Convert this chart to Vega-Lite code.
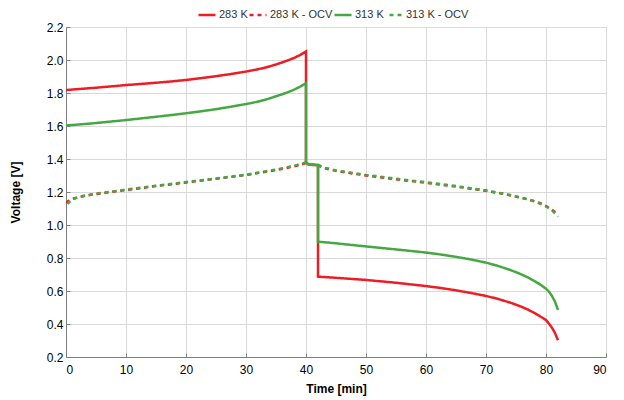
{
  "$schema": "https://vega.github.io/schema/vega-lite/v6.json",
  "width": 540,
  "height": 330,
  "autosize": {"type": "none"},
  "padding": {"left": 66, "top": 27, "right": 18, "bottom": 43},
  "background": "white",
  "config": {
    "font": "Liberation Sans",
    "view": {"stroke": "#bfbfbf", "strokeWidth": 1},
    "axis": {
      "labelFont": "Liberation Sans",
      "labelFontSize": 12,
      "labelColor": "#000000",
      "titleFont": "Liberation Sans",
      "titleFontSize": 12,
      "titleFontWeight": "bold",
      "titleColor": "#000000",
      "gridColor": "#d9d9d9",
      "gridWidth": 1,
      "domainColor": "#7f7f7f",
      "domainWidth": 1,
      "tickColor": "#7f7f7f",
      "tickSize": -4
    },
    "legend": {
      "symbolType": "stroke",
      "symbolSize": 289,
      "symbolStrokeWidth": 2.5,
      "labelFont": "Liberation Sans",
      "labelFontSize": 11,
      "labelColor": "#333333",
      "labelOffset": 2,
      "columnPadding": -4
    }
  },
  "data": {
    "values": [
      {"s": "283 K", "i": 0, "t": 0, "v": 1.818},
      {"s": "283 K", "i": 1, "t": 2.5, "v": 1.825},
      {"s": "283 K", "i": 2, "t": 5, "v": 1.832},
      {"s": "283 K", "i": 3, "t": 7.5, "v": 1.84},
      {"s": "283 K", "i": 4, "t": 10, "v": 1.848},
      {"s": "283 K", "i": 5, "t": 12.5, "v": 1.855},
      {"s": "283 K", "i": 6, "t": 15, "v": 1.862},
      {"s": "283 K", "i": 7, "t": 17.5, "v": 1.87},
      {"s": "283 K", "i": 8, "t": 20, "v": 1.879},
      {"s": "283 K", "i": 9, "t": 22.5, "v": 1.89},
      {"s": "283 K", "i": 10, "t": 25, "v": 1.902},
      {"s": "283 K", "i": 11, "t": 27.5, "v": 1.915},
      {"s": "283 K", "i": 12, "t": 30, "v": 1.93},
      {"s": "283 K", "i": 13, "t": 31, "v": 1.937},
      {"s": "283 K", "i": 14, "t": 32, "v": 1.944},
      {"s": "283 K", "i": 15, "t": 33, "v": 1.952},
      {"s": "283 K", "i": 16, "t": 34, "v": 1.962},
      {"s": "283 K", "i": 17, "t": 35, "v": 1.973},
      {"s": "283 K", "i": 18, "t": 36, "v": 1.985},
      {"s": "283 K", "i": 19, "t": 37, "v": 1.998},
      {"s": "283 K", "i": 20, "t": 38, "v": 2.012},
      {"s": "283 K", "i": 21, "t": 39, "v": 2.03},
      {"s": "283 K", "i": 22, "t": 40, "v": 2.052},
      {"s": "283 K", "i": 23, "t": 40, "v": 1.378},
      {"s": "283 K", "i": 24, "t": 40.4, "v": 1.367},
      {"s": "283 K", "i": 25, "t": 42, "v": 1.362},
      {"s": "283 K", "i": 26, "t": 42, "v": 0.687},
      {"s": "283 K", "i": 27, "t": 45, "v": 0.68},
      {"s": "283 K", "i": 28, "t": 50, "v": 0.667},
      {"s": "283 K", "i": 29, "t": 55, "v": 0.65},
      {"s": "283 K", "i": 30, "t": 60, "v": 0.63},
      {"s": "283 K", "i": 31, "t": 62.5, "v": 0.618},
      {"s": "283 K", "i": 32, "t": 65, "v": 0.604},
      {"s": "283 K", "i": 33, "t": 67.5, "v": 0.588},
      {"s": "283 K", "i": 34, "t": 70, "v": 0.57},
      {"s": "283 K", "i": 35, "t": 72, "v": 0.552},
      {"s": "283 K", "i": 36, "t": 74, "v": 0.53},
      {"s": "283 K", "i": 37, "t": 75, "v": 0.517},
      {"s": "283 K", "i": 38, "t": 76, "v": 0.503},
      {"s": "283 K", "i": 39, "t": 77, "v": 0.487},
      {"s": "283 K", "i": 40, "t": 78, "v": 0.468},
      {"s": "283 K", "i": 41, "t": 79, "v": 0.447},
      {"s": "283 K", "i": 42, "t": 80, "v": 0.424},
      {"s": "283 K", "i": 43, "t": 80.5, "v": 0.402},
      {"s": "283 K", "i": 44, "t": 81, "v": 0.377},
      {"s": "283 K", "i": 45, "t": 81.5, "v": 0.345},
      {"s": "283 K", "i": 46, "t": 82, "v": 0.302},

      {"s": "283 K - OCV", "i": 0, "t": 0, "v": 1.135},
      {"s": "283 K - OCV", "i": 1, "t": 0.5, "v": 1.148},
      {"s": "283 K - OCV", "i": 2, "t": 1, "v": 1.158},
      {"s": "283 K - OCV", "i": 3, "t": 2, "v": 1.168},
      {"s": "283 K - OCV", "i": 4, "t": 3, "v": 1.176},
      {"s": "283 K - OCV", "i": 5, "t": 5, "v": 1.188},
      {"s": "283 K - OCV", "i": 6, "t": 7.5, "v": 1.2},
      {"s": "283 K - OCV", "i": 7, "t": 10, "v": 1.212},
      {"s": "283 K - OCV", "i": 8, "t": 15, "v": 1.236},
      {"s": "283 K - OCV", "i": 9, "t": 20, "v": 1.258},
      {"s": "283 K - OCV", "i": 10, "t": 25, "v": 1.28},
      {"s": "283 K - OCV", "i": 11, "t": 30, "v": 1.303},
      {"s": "283 K - OCV", "i": 12, "t": 35, "v": 1.333},
      {"s": "283 K - OCV", "i": 13, "t": 38, "v": 1.355},
      {"s": "283 K - OCV", "i": 14, "t": 40, "v": 1.375},
      {"s": "283 K - OCV", "i": 15, "t": 40.4, "v": 1.366},
      {"s": "283 K - OCV", "i": 16, "t": 42, "v": 1.362},
      {"s": "283 K - OCV", "i": 17, "t": 43, "v": 1.345},
      {"s": "283 K - OCV", "i": 18, "t": 45, "v": 1.328},
      {"s": "283 K - OCV", "i": 19, "t": 50, "v": 1.3},
      {"s": "283 K - OCV", "i": 20, "t": 55, "v": 1.277},
      {"s": "283 K - OCV", "i": 21, "t": 60, "v": 1.256},
      {"s": "283 K - OCV", "i": 22, "t": 65, "v": 1.233},
      {"s": "283 K - OCV", "i": 23, "t": 70, "v": 1.207},
      {"s": "283 K - OCV", "i": 24, "t": 73, "v": 1.188},
      {"s": "283 K - OCV", "i": 25, "t": 75, "v": 1.172},
      {"s": "283 K - OCV", "i": 26, "t": 76, "v": 1.164},
      {"s": "283 K - OCV", "i": 27, "t": 77, "v": 1.155},
      {"s": "283 K - OCV", "i": 28, "t": 78, "v": 1.145},
      {"s": "283 K - OCV", "i": 29, "t": 79, "v": 1.132},
      {"s": "283 K - OCV", "i": 30, "t": 80, "v": 1.115},
      {"s": "283 K - OCV", "i": 31, "t": 80.5, "v": 1.105},
      {"s": "283 K - OCV", "i": 32, "t": 81, "v": 1.092},
      {"s": "283 K - OCV", "i": 33, "t": 81.5, "v": 1.078},
      {"s": "283 K - OCV", "i": 34, "t": 82, "v": 1.06},

      {"s": "313 K", "i": 0, "t": 0, "v": 1.603},
      {"s": "313 K", "i": 1, "t": 2.5, "v": 1.61},
      {"s": "313 K", "i": 2, "t": 5, "v": 1.618},
      {"s": "313 K", "i": 3, "t": 7.5, "v": 1.627},
      {"s": "313 K", "i": 4, "t": 10, "v": 1.636},
      {"s": "313 K", "i": 5, "t": 12.5, "v": 1.646},
      {"s": "313 K", "i": 6, "t": 15, "v": 1.656},
      {"s": "313 K", "i": 7, "t": 17.5, "v": 1.666},
      {"s": "313 K", "i": 8, "t": 20, "v": 1.677},
      {"s": "313 K", "i": 9, "t": 22.5, "v": 1.689},
      {"s": "313 K", "i": 10, "t": 25, "v": 1.702},
      {"s": "313 K", "i": 11, "t": 27.5, "v": 1.717},
      {"s": "313 K", "i": 12, "t": 30, "v": 1.733},
      {"s": "313 K", "i": 13, "t": 31, "v": 1.74},
      {"s": "313 K", "i": 14, "t": 32, "v": 1.748},
      {"s": "313 K", "i": 15, "t": 33, "v": 1.757},
      {"s": "313 K", "i": 16, "t": 34, "v": 1.768},
      {"s": "313 K", "i": 17, "t": 35, "v": 1.78},
      {"s": "313 K", "i": 18, "t": 36, "v": 1.792},
      {"s": "313 K", "i": 19, "t": 37, "v": 1.805},
      {"s": "313 K", "i": 20, "t": 38, "v": 1.82},
      {"s": "313 K", "i": 21, "t": 39, "v": 1.838},
      {"s": "313 K", "i": 22, "t": 40, "v": 1.859},
      {"s": "313 K", "i": 23, "t": 40, "v": 1.38},
      {"s": "313 K", "i": 24, "t": 40.4, "v": 1.369},
      {"s": "313 K", "i": 25, "t": 42, "v": 1.364},
      {"s": "313 K", "i": 26, "t": 42, "v": 0.899},
      {"s": "313 K", "i": 27, "t": 45, "v": 0.889},
      {"s": "313 K", "i": 28, "t": 50, "v": 0.87},
      {"s": "313 K", "i": 29, "t": 55, "v": 0.852},
      {"s": "313 K", "i": 30, "t": 60, "v": 0.833},
      {"s": "313 K", "i": 31, "t": 62.5, "v": 0.821},
      {"s": "313 K", "i": 32, "t": 65, "v": 0.807},
      {"s": "313 K", "i": 33, "t": 67.5, "v": 0.791},
      {"s": "313 K", "i": 34, "t": 70, "v": 0.772},
      {"s": "313 K", "i": 35, "t": 72, "v": 0.752},
      {"s": "313 K", "i": 36, "t": 74, "v": 0.728},
      {"s": "313 K", "i": 37, "t": 75, "v": 0.714},
      {"s": "313 K", "i": 38, "t": 76, "v": 0.699},
      {"s": "313 K", "i": 39, "t": 77, "v": 0.682},
      {"s": "313 K", "i": 40, "t": 78, "v": 0.662},
      {"s": "313 K", "i": 41, "t": 79, "v": 0.64},
      {"s": "313 K", "i": 42, "t": 80, "v": 0.614},
      {"s": "313 K", "i": 43, "t": 80.5, "v": 0.595},
      {"s": "313 K", "i": 44, "t": 81, "v": 0.57},
      {"s": "313 K", "i": 45, "t": 81.5, "v": 0.535},
      {"s": "313 K", "i": 46, "t": 82, "v": 0.485},

      {"s": "313 K - OCV", "i": 0, "t": 0, "v": 1.105},
      {"s": "313 K - OCV", "i": 1, "t": 0.5, "v": 1.138},
      {"s": "313 K - OCV", "i": 2, "t": 1, "v": 1.155},
      {"s": "313 K - OCV", "i": 3, "t": 2, "v": 1.168},
      {"s": "313 K - OCV", "i": 4, "t": 3, "v": 1.177},
      {"s": "313 K - OCV", "i": 5, "t": 5, "v": 1.19},
      {"s": "313 K - OCV", "i": 6, "t": 7.5, "v": 1.202},
      {"s": "313 K - OCV", "i": 7, "t": 10, "v": 1.214},
      {"s": "313 K - OCV", "i": 8, "t": 15, "v": 1.238},
      {"s": "313 K - OCV", "i": 9, "t": 20, "v": 1.26},
      {"s": "313 K - OCV", "i": 10, "t": 25, "v": 1.282},
      {"s": "313 K - OCV", "i": 11, "t": 30, "v": 1.305},
      {"s": "313 K - OCV", "i": 12, "t": 35, "v": 1.336},
      {"s": "313 K - OCV", "i": 13, "t": 38, "v": 1.358},
      {"s": "313 K - OCV", "i": 14, "t": 40, "v": 1.379},
      {"s": "313 K - OCV", "i": 15, "t": 40.4, "v": 1.369},
      {"s": "313 K - OCV", "i": 16, "t": 42, "v": 1.364},
      {"s": "313 K - OCV", "i": 17, "t": 43, "v": 1.348},
      {"s": "313 K - OCV", "i": 18, "t": 45, "v": 1.331},
      {"s": "313 K - OCV", "i": 19, "t": 50, "v": 1.303},
      {"s": "313 K - OCV", "i": 20, "t": 55, "v": 1.28},
      {"s": "313 K - OCV", "i": 21, "t": 60, "v": 1.259},
      {"s": "313 K - OCV", "i": 22, "t": 65, "v": 1.236},
      {"s": "313 K - OCV", "i": 23, "t": 70, "v": 1.209},
      {"s": "313 K - OCV", "i": 24, "t": 73, "v": 1.19},
      {"s": "313 K - OCV", "i": 25, "t": 75, "v": 1.173},
      {"s": "313 K - OCV", "i": 26, "t": 76, "v": 1.164},
      {"s": "313 K - OCV", "i": 27, "t": 77, "v": 1.155},
      {"s": "313 K - OCV", "i": 28, "t": 78, "v": 1.144},
      {"s": "313 K - OCV", "i": 29, "t": 79, "v": 1.13},
      {"s": "313 K - OCV", "i": 30, "t": 80, "v": 1.112},
      {"s": "313 K - OCV", "i": 31, "t": 80.5, "v": 1.101},
      {"s": "313 K - OCV", "i": 32, "t": 81, "v": 1.087},
      {"s": "313 K - OCV", "i": 33, "t": 81.5, "v": 1.071},
      {"s": "313 K - OCV", "i": 34, "t": 82, "v": 1.05}
    ]
  },
  "mark": {"type": "line", "strokeWidth": 2.5, "clip": true},
  "encoding": {
    "x": {
      "field": "t",
      "type": "quantitative",
      "title": "Time [min]",
      "scale": {"domain": [0, 90], "nice": false},
      "axis": {"values": [0, 10, 20, 30, 40, 50, 60, 70, 80, 90], "labelPadding": 11, "titlePadding": 8}
    },
    "y": {
      "field": "v",
      "type": "quantitative",
      "title": "Voltage [V]",
      "scale": {"domain": [0.2, 2.2], "nice": false},
      "axis": {
        "values": [0.2, 0.4, 0.6, 0.8, 1.0, 1.2, 1.4, 1.6, 1.8, 2.0, 2.2],
        "format": ".1f",
        "labelPadding": 7,
        "titlePadding": 24
      }
    },
    "color": {
      "field": "s",
      "type": "nominal",
      "scale": {
        "domain": ["283 K", "283 K - OCV", "313 K", "313 K - OCV"],
        "range": ["#ee1c25", "#ee1c25", "#46a843", "#46a843"]
      },
      "legend": {"title": null, "orient": "none", "legendX": 131, "legendY": -22, "direction": "horizontal"}
    },
    "strokeDash": {
      "field": "s",
      "type": "nominal",
      "scale": {
        "domain": ["283 K", "283 K - OCV", "313 K", "313 K - OCV"],
        "range": [[1, 0], [4, 4], [1, 0], [0, 4, 4, 0]]
      },
      "legend": {"title": null, "orient": "none", "legendX": 131, "legendY": -22, "direction": "horizontal"}
    },
    "order": {"field": "i", "type": "quantitative"}
  }
}
